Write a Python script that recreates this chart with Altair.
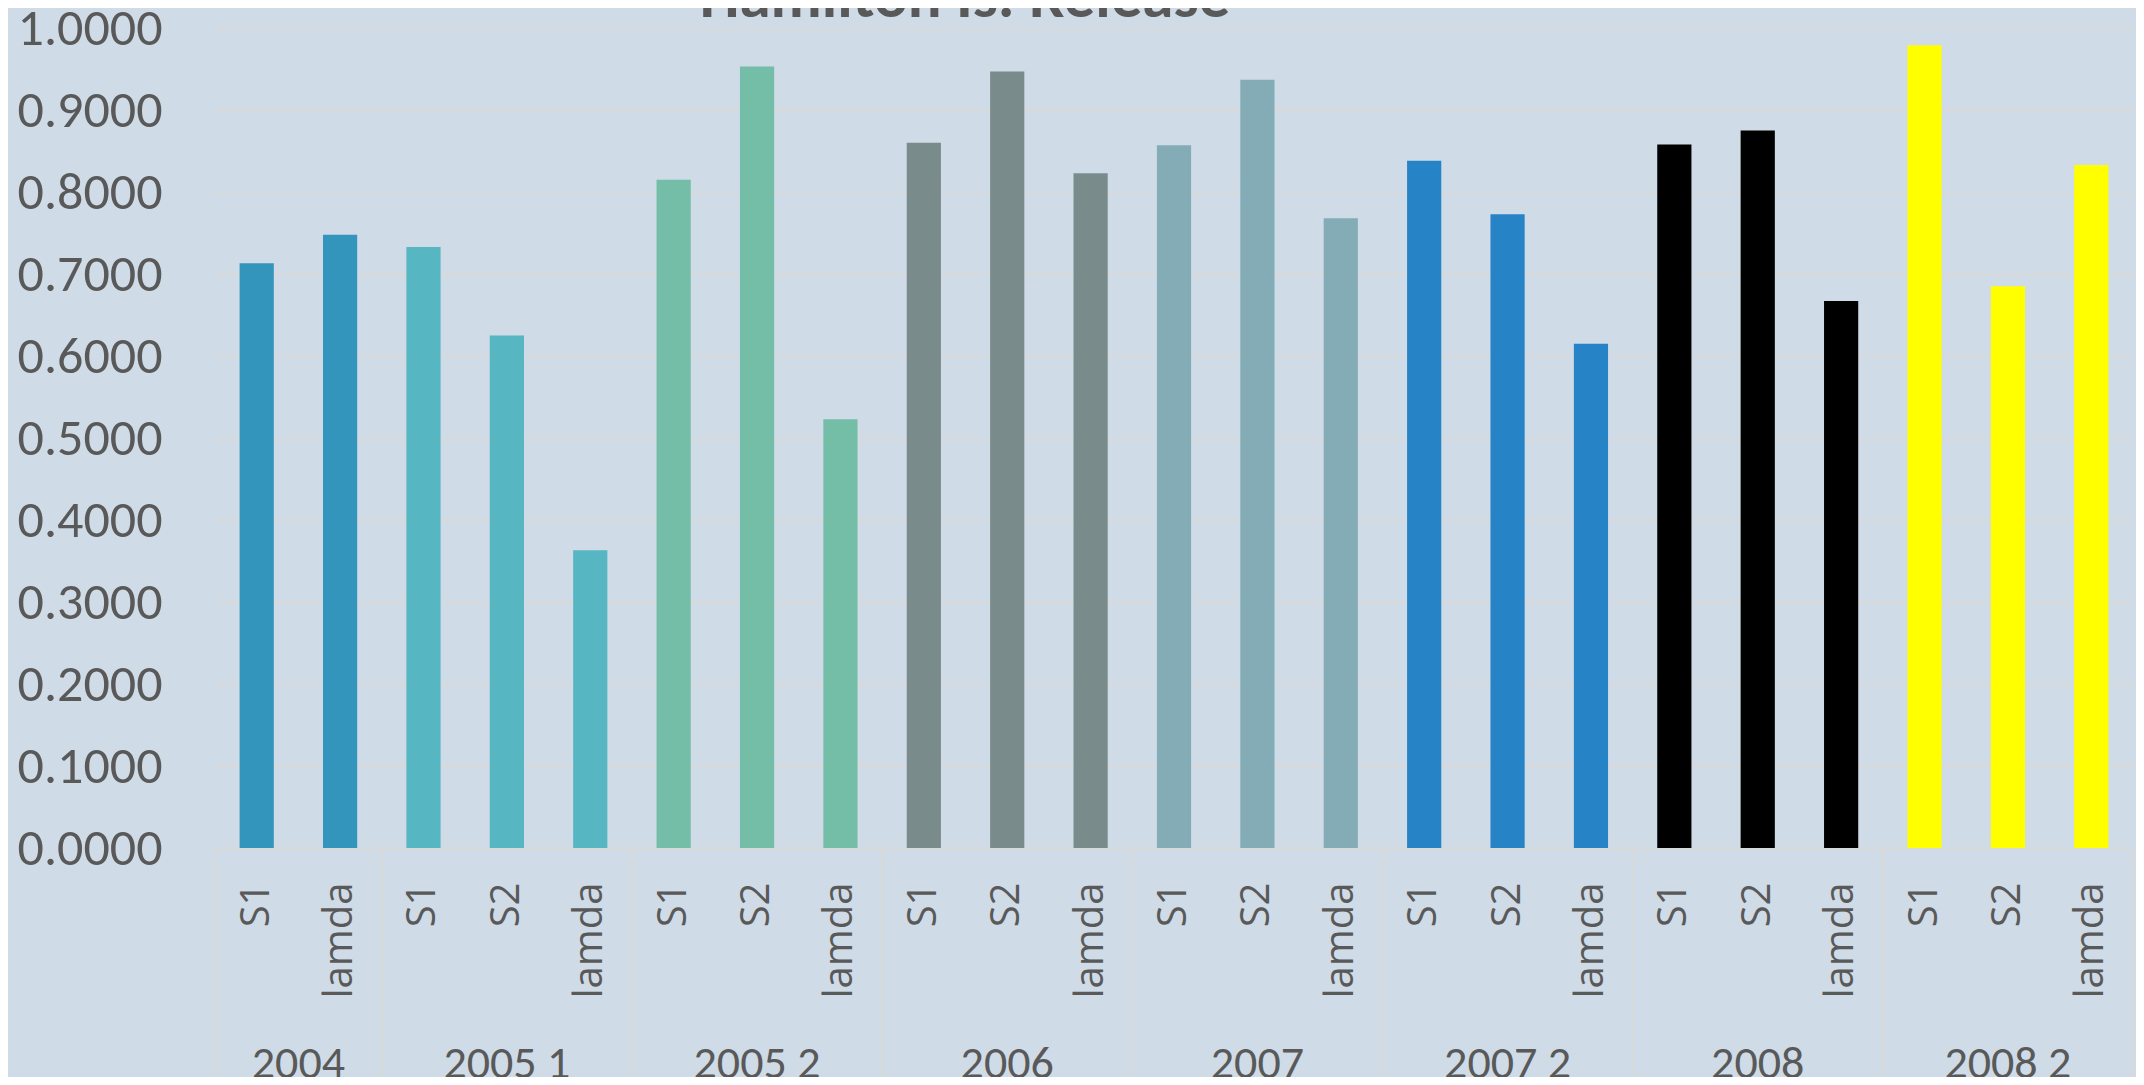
import altair as alt
import pandas as pd

groups = ["2004", "2005 1", "2005 2", "2006", "2007", "2007 2", "2008", "2008 2"]
group_subs = [
    ["S1", "lamda"],
    ["S1", "S2", "lamda"],
    ["S1", "S2", "lamda"],
    ["S1", "S2", "lamda"],
    ["S1", "S2", "lamda"],
    ["S1", "S2", "lamda"],
    ["S1", "S2", "lamda"],
    ["S1", "S2", "lamda"],
]
group_values = [
    [0.713, 0.748],
    [0.733, 0.625, 0.363],
    [0.815, 0.953, 0.523],
    [0.860, 0.947, 0.823],
    [0.857, 0.937, 0.768],
    [0.838, 0.773, 0.615],
    [0.858, 0.875, 0.667],
    [0.979, 0.685, 0.833],
]
group_colors = ["#3394BC", "#56B6C1", "#74BDA6", "#7A8B8C", "#84ACB6", "#2683C6", "#000000", "#FFFF00"]

title_text = "Hamilton Is. Release"
y_ticks = [0.0, 0.1, 0.2, 0.3, 0.4, 0.5, 0.6, 0.7, 0.8, 0.9, 1.0]

rows = []
grp_rows = []
bounds = [0]
i = 0
for g, subs, vals in zip(groups, group_subs, group_values):
    start = i
    for s, v in zip(subs, vals):
        rows.append({"key": f"{g}|{s}", "group": g, "sub": s, "value": v})
        i += 1
    grp_rows.append({"group": g, "center": (start + i) / 2})
    bounds.append(i)

df = pd.DataFrame(rows)
gdf = pd.DataFrame(grp_rows)
bdf = pd.DataFrame({"b": bounds})
tdf = pd.DataFrame({"t": [title_text]})
n = len(df)

W, H = 1918, 820
TXT = "#595959"
GRID = "#D9D9D9"
CAL = "Carlito, 'Liberation Sans Narrow', 'Open Sans', sans-serif"

bars = alt.Chart(df).mark_bar().encode(
    x=alt.X(
        "key:N",
        sort=list(df["key"]),
        scale=alt.Scale(paddingInner=0.59, paddingOuter=0.295),
        axis=alt.Axis(
            title=None,
            labelAngle=-90,
            labelExpr="split(datum.label, '|')[1]",
            labelFont="Open Sans",
            labelFontSize=40,
            labelColor=TXT,
            labelPadding=34,
            ticks=False,
            domainColor=GRID,
            domainWidth=2,
            labelLimit=0,
        ),
    ),
    y=alt.Y(
        "value:Q",
        scale=alt.Scale(domain=[0, 1], nice=False),
        axis=alt.Axis(
            title=None,
            values=y_ticks,
            format=".4f",
            labelFont=CAL,
            labelFontSize=52,
            labelColor=TXT,
            labelPadding=53,
            ticks=False,
            domain=False,
            gridColor=GRID,
            gridWidth=2,
        ),
    ),
    color=alt.Color("group:N", scale=alt.Scale(domain=groups, range=group_colors), legend=None),
)

xq = alt.Scale(domain=[0, n], nice=False, zero=False)

group_labels = alt.Chart(gdf).mark_text(
    font=CAL, fontSize=46, color=TXT, baseline="alphabetic", align="center"
).encode(
    x=alt.X("center:Q", scale=xq, axis=None),
    y=alt.value(H + 230),
    text="group:N",
)

seps = alt.Chart(bdf).mark_rule(color=GRID, strokeWidth=2).encode(
    x=alt.X("b:Q", scale=xq, axis=None),
    y=alt.value(H),
    y2=alt.value(H + 260),
)

title = alt.Chart(tdf).mark_text(
    font=CAL, fontSize=63, fontWeight="bold", color=TXT, baseline="alphabetic", align="center"
).encode(
    x=alt.value(750),
    y=alt.value(-11),
    text="t:N",
)

chart = (
    alt.layer(bars, seps, group_labels, title)
    .resolve_scale(x="independent")
    .properties(
        width=W,
        height=H,
        autosize=alt.AutoSizeParams(type="none"),
        padding={"left": 207, "top": 20, "right": 3, "bottom": 229},
        background="#CFDBE6",
    )
    .configure_view(stroke=None)
)

chart.save("out.html", embed_options={"renderer": "svg", "actions": False})
